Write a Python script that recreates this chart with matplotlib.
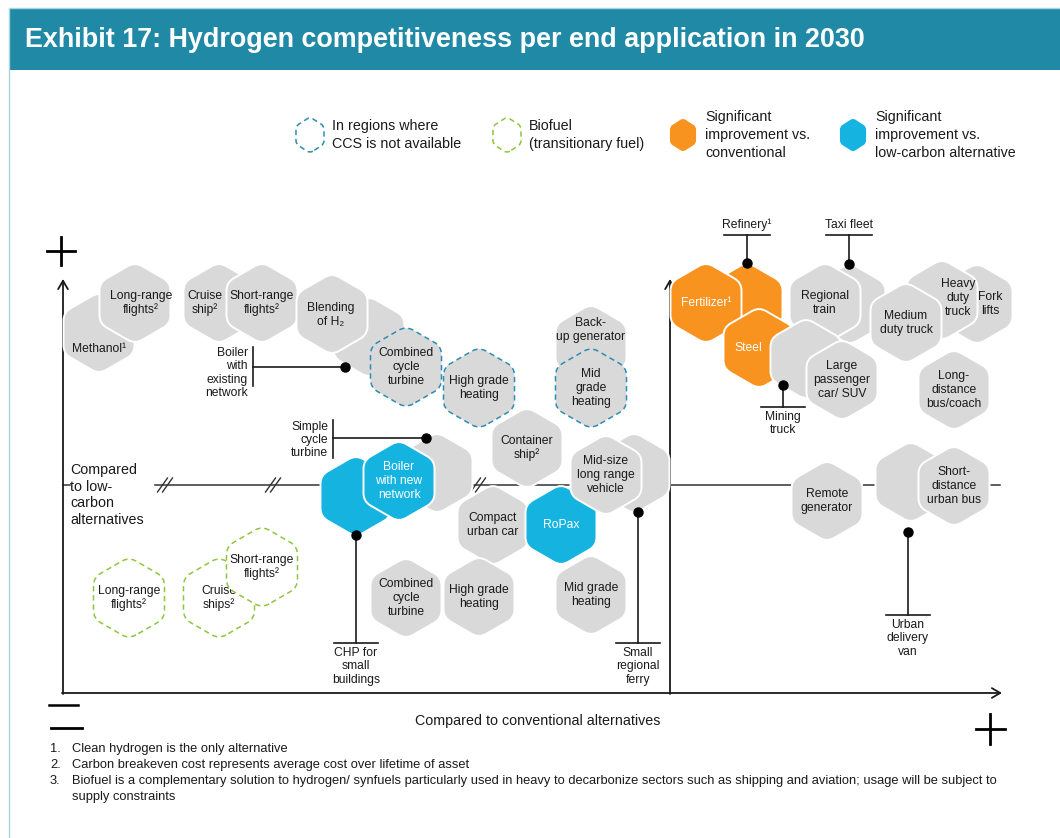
import matplotlib.pyplot as plt
from matplotlib.path import Path
from matplotlib.patches import PathPatch, Rectangle
import numpy as np

plt.rcParams['font.family'] = ['Liberation Sans', 'DejaVu Sans']

# end applications: position on the chart (x = vs conventional, y = vs low-carbon), drawn back to front
labels = ["Methanol¹", "Long-range\nflights²", "Cruise\nship²", "Short-range\nflights²", "",
          "Blending\nof H₂", "Combined\ncycle\nturbine", "High grade\nheating", "Back-\nup generator",
          "Mid\ngrade\nheating", "Container\nship²", "", "", "Boiler\nwith new\nnetwork",
          "Compact\nurban car", "RoPax", "", "Mid-size\nlong range\nvehicle",
          "Combined\ncycle\nturbine", "High grade\nheating", "Mid grade\nheating",
          "Long-range\nflights²", "Cruise\nships²", "Short-range\nflights²",
          "", "Fertilizer¹", "Steel", "", "Regional\ntrain", "", "Large\npassenger\ncar/ SUV",
          "Fork\nlifts", "Heavy\nduty\ntruck", "Medium\nduty truck", "Long-\ndistance\nbus/coach",
          "Remote\ngenerator", "", "Short-\ndistance\nurban bus"]
xs = [99, 135, 219, 262, 369, 332, 406, 479, 591, 591, 527, 437, 356, 399, 493, 561, 634, 606,
      406, 479, 591, 129, 219, 262,
      747, 706, 759, 850, 825, 806, 842, 977, 942, 906, 954, 827, 911, 954]
ys = [333, 303, 303, 303, 337, 314, 367, 388, 345, 388, 448, 473, 496, 481, 525, 525, 473, 475,
      598, 597, 595, 598, 598, 567,
      303, 303, 348, 304, 303, 359, 380, 304, 300, 323, 390, 501, 482, 486]
kinds = ["gray", "gray", "gray", "gray", "gray", "gray", "ccs", "ccs", "gray", "ccs", "gray", "gray",
         "blue", "blue", "gray", "blue", "gray", "gray", "gray", "gray", "gray", "bio", "bio", "bio",
         "orange", "orange", "orange", "gray", "gray", "gray", "gray", "gray", "gray", "gray", "gray",
         "gray", "gray", "gray"]
# label nudges inside a hexagon (layout only)
text_dx = [0, 6, -14, 0, 0, -1, 0, 0, 0, 0, 0, 0, 0, 0, 0, 0, 0, 0, 0, 0, 0, 0, 0, 0,
           0, 0, -11, 0, 0, 0, 0, 13, 16, 0, 0, 0, 0, 0]
text_dy = [16, 0, 0, 0, 0, 1, 0, 0, -15, 0, 0, 0, 0, 0, 0, 0, 0, 0, 0, 0, 0, 0, 0, 0,
           0, 0, 0, 0, 0, 0, 0, 0, -2, 0, 0, 0, 0, 0]

# callouts: label and the dot it points to
callouts = ["Boiler\nwith\nexisting\nnetwork", "Simple\ncycle\nturbine", "CHP for\nsmall\nbuildings",
            "Small\nregional\nferry", "Refinery¹", "Taxi fleet", "Mining\ntruck", "Urban\ndelivery\nvan"]
call_x = [345, 426, 356, 638, 747, 849, 783, 908]
call_y = [367, 438, 535, 512, 263, 264, 385, 532]

legend_labels = ["In regions where\nCCS is not available", "Biofuel\n(transitionary fuel)",
                 "Significant\nimprovement vs.\nconventional",
                 "Significant\nimprovement vs.\nlow-carbon alternative"]
legend_kinds = ["ccs", "bio", "orange", "blue"]
legend_x = [310, 507, 683, 853]

footnotes = ["Clean hydrogen is the only alternative",
             "Carbon breakeven cost represents average cost over lifetime of asset",
             "Biofuel is a complementary solution to hydrogen/ synfuels particularly used in heavy to decarbonize "
             "sectors such as shipping and aviation; usage will be subject to\nsupply constraints"]

TEAL = "#208aa6"
GRAY = "#d9d9d9"
ORANGE = "#f7931e"
CYAN = "#15b3e0"
CCS_EDGE = "#2b8db3"
BIO_EDGE = "#8dc63f"
TXT = "#1a1a1a"


def hex_path(cx, cy, r, rad=0.2, sx=1.0):
    ang = np.deg2rad(90 + 60 * np.arange(6))
    vx = cx + sx * r * np.cos(ang)
    vy = cy + r * np.sin(ang)
    verts, codes = [], []
    for i in range(6):
        p = np.array([vx[i], vy[i]])
        prv = np.array([vx[i - 1], vy[i - 1]])
        nxt = np.array([vx[(i + 1) % 6], vy[(i + 1) % 6]])
        verts.append(p + (prv - p) * rad)
        codes.append(Path.MOVETO if i == 0 else Path.LINETO)
        verts += [p, p + (nxt - p) * rad]
        codes += [Path.CURVE3, Path.CURVE3]
    verts.append(verts[0])
    codes.append(Path.CLOSEPOLY)
    return Path(verts, codes)


def draw_hex(ax, cx, cy, r, kind, z, sx=1.0, fill_dashed=GRAY):
    path = hex_path(cx, cy, r, sx=sx)
    if kind == "gray":
        pp = PathPatch(path, fc=GRAY, ec="white", lw=1.4)
    elif kind == "orange":
        pp = PathPatch(path, fc=ORANGE, ec="white", lw=1.4)
    elif kind == "blue":
        pp = PathPatch(path, fc=CYAN, ec="white", lw=1.4)
    elif kind == "ccs":
        pp = PathPatch(path, fc=fill_dashed, ec=CCS_EDGE, lw=1.1, ls=(0, (3.5, 2.5)))
    else:
        pp = PathPatch(path, fc="white", ec=BIO_EDGE, lw=1.1, ls=(0, (3.5, 2.5)))
    pp.set_zorder(z)
    ax.add_patch(pp)


fig = plt.figure(figsize=(10.6, 8.38), dpi=100)
ax = fig.add_axes([0, 0, 1, 1])
ax.set_xlim(0, 1060)
ax.set_ylim(838, 0)
ax.axis("off")

# header
ax.plot([9, 9, 1060], [838, 8, 8], color="#a9d3e0", lw=1)
ax.add_patch(Rectangle((9, 9), 1051, 61, fc=TEAL, ec="none"))
ax.text(25, 40, "Exhibit 17: Hydrogen competitiveness per end application in 2030", color="white",
        fontsize=19.4, fontweight="bold", va="center", ha="left")

# legend
for lab, kd, lx in zip(legend_labels, legend_kinds, legend_x):
    draw_hex(ax, lx, 135, 18, kd, 3, sx=0.9, fill_dashed="white")
    ax.text(lx + 22, 135, lab, fontsize=10.3, va="center", ha="left", color=TXT, linespacing=1.38)

# axes
arrow = dict(arrowstyle="->,head_length=0.6,head_width=0.35", color=TXT, lw=1.3, shrinkA=0, shrinkB=0)
ax.annotate("", xy=(63, 279), xytext=(63, 694), arrowprops=arrow)
ax.annotate("", xy=(670, 279), xytext=(670, 694), arrowprops=arrow)
ax.annotate("", xy=(1002, 693), xytext=(62, 693), arrowprops=arrow)
ax.plot([155, 1000], [485, 485], color="#333333", lw=1.1, zorder=1)
ax.plot([63, 70], [485, 485], color="#333333", lw=1.1, zorder=1)
for bx in [165, 273, 478]:
    for off in [-2.5, 2.5]:
        ax.plot([bx + off - 5, bx + off + 5], [492, 478], color="#333333", lw=1, zorder=2)

ax.plot([47, 75], [251, 251], color="black", lw=2)
ax.plot([61, 61], [237, 265], color="black", lw=2)
ax.plot([49, 78], [705, 705], color="black", lw=1.8)
ax.plot([51, 82], [728, 728], color="black", lw=2)
ax.plot([976, 1005], [729, 729], color="black", lw=2)
ax.plot([990, 990], [714, 744], color="black", lw=2)

ax.text(70, 495, "Compared\nto low-\ncarbon\nalternatives", fontsize=10.3, ha="left", va="center",
        color=TXT, linespacing=1.27)
ax.text(538, 721, "Compared to conventional alternatives", fontsize=10.3, ha="center", va="center", color=TXT)

# hexagons
for i, (lab, x, y, kd) in enumerate(zip(labels, xs, ys, kinds)):
    draw_hex(ax, x, y, 41, kd, 3 + i * 0.01)
    if lab:
        col = "white" if kd in ("orange", "blue") else TXT
        ax.text(x + text_dx[i], y + text_dy[i], lab, fontsize=8.7, ha="center", va="center",
                color=col, linespacing=1.17, zorder=3 + i * 0.01 + 0.005)

# callouts
lk = dict(color=TXT, lw=1.2, zorder=5)
txt = dict(fontsize=8.7, color=TXT, linespacing=1.14, zorder=5)
for lab, cx, cy in zip(callouts, call_x, call_y):
    ax.plot(cx, cy, "o", color="black", ms=6.5, zorder=6)
    if lab.startswith("Boiler"):
        ax.plot([253, cx], [cy, cy], **lk)
        ax.plot([253, 253], [347, 386], **lk)
        ax.text(248, cy + 6, lab, ha="right", va="center", **txt)
    elif lab.startswith("Simple"):
        ax.plot([333, cx], [cy, cy], **lk)
        ax.plot([333, 333], [420, 458], **lk)
        ax.text(328, cy + 2, lab, ha="right", va="center", **txt)
    elif cy < 300:
        ax.plot([cx, cx], [235, cy], **lk)
        ax.plot([cx - 23, cx + 23], [235, 235], **lk)
        ax.text(cx, 225, lab, ha="center", va="center", **txt)
    else:
        bot = {356: 643, 638: 643, 783: 407, 908: 615}[cx]
        ax.plot([cx, cx], [cy, bot], **lk)
        ax.plot([cx - 22, cx + 22], [bot, bot], **lk)
        ax.text(cx, bot + 4, lab, ha="center", va="top", **txt)

# footnotes
row = 0
for k, fn in enumerate(footnotes):
    ax.text(50, 749 + 16 * row, f"{k + 1}.", fontsize=9.3, ha="left", va="center", color=TXT)
    for line in fn.split("\n"):
        ax.text(72, 749 + 16 * row, line, fontsize=9.3, ha="left", va="center", color=TXT)
        row += 1

fig.savefig("out.png", dpi=100)
